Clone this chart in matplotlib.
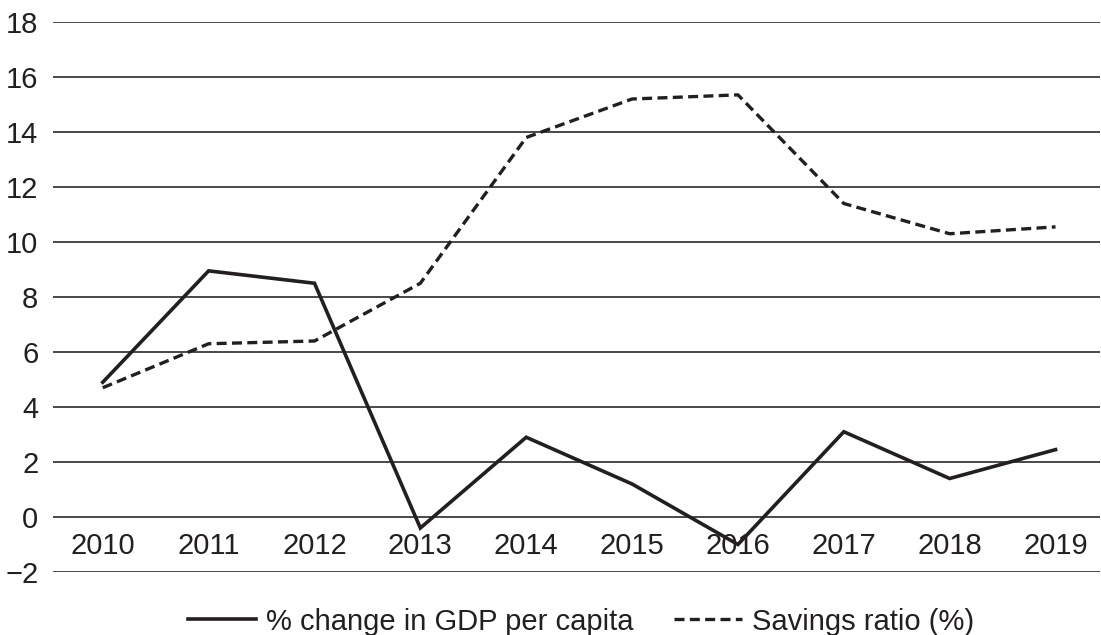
import matplotlib
matplotlib.use("Agg")
import matplotlib.pyplot as plt

plt.rcParams['font.family'] = ['Liberation Sans', 'DejaVu Sans']

years = [2010, 2011, 2012, 2013, 2014, 2015, 2016, 2017, 2018, 2019]
gdp_change = [4.9, 8.95, 8.5, -0.4, 2.9, 1.2, -1.0, 3.1, 1.4, 2.45]
savings_ratio = [4.7, 6.3, 6.4, 8.5, 13.8, 15.2, 15.35, 11.4, 10.3, 10.55]
y_ticks = [-2, 0, 2, 4, 6, 8, 10, 12, 14, 16, 18]
y_labels = ['\u22122' if v < 0 else str(v) for v in y_ticks]

fig = plt.figure(figsize=(11.01, 6.35), dpi=100)
ax = fig.add_axes([53 / 1101, 1 - 572 / 635, (1100 - 53) / 1101, 550 / 635])

ax.plot(years, gdp_change, color='#231f20', lw=2.6, solid_joinstyle='miter',
        label='% change in GDP per capita')
ax.plot(years, savings_ratio, color='#231f20', lw=2.4, linestyle=(0, (3.0, 1.6)),
        label='Savings ratio (%)')

ax.set_xlim(2009.53, 2019.42)
ax.set_ylim(-2, 18)
ax.set_yticks(y_ticks)
ax.set_yticklabels(y_labels)
ax.set_xticks(years)
ax.set_xticklabels([str(y) for y in years])

for s in ['top', 'right', 'left']:
    ax.spines[s].set_visible(False)
ax.spines['bottom'].set_position(('data', 0))
ax.spines['bottom'].set_visible(False)

ax.yaxis.grid(True, color='#3a3a3a', lw=1.3)
ax.set_axisbelow(True)
ax.tick_params(axis='y', length=0, pad=10.5, labelsize=21, labelcolor='#231f20')
ax.tick_params(axis='x', length=0, pad=11, labelsize=21, labelcolor='#231f20')

fig.legend(loc='center', bbox_to_anchor=(0.528, 0.021), ncol=2, frameon=False,
           fontsize=21, handlelength=2.33, handletextpad=0.34, columnspacing=1.4,
           labelcolor='#231f20')

fig.savefig('out.png', dpi=100)
